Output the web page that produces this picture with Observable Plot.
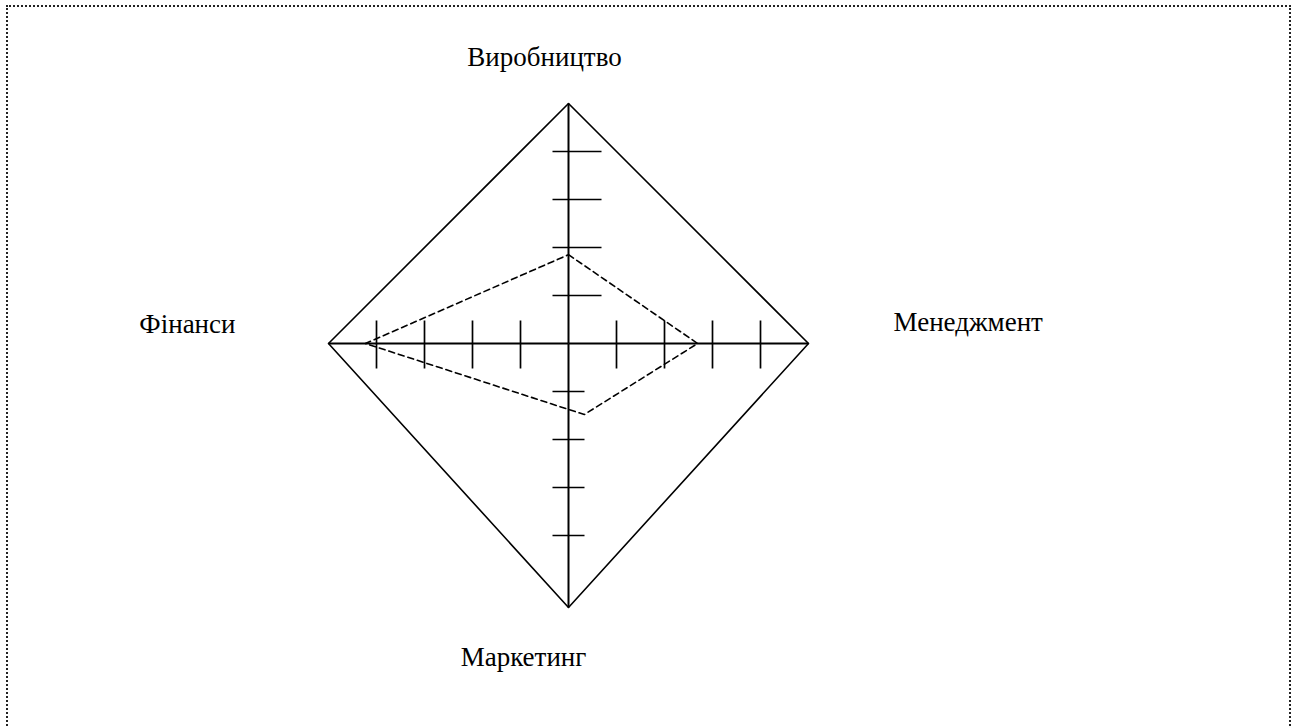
<!DOCTYPE html>
<html><head><meta charset="utf-8">
<script src="https://cdn.jsdelivr.net/npm/d3@7"></script>
<script src="https://cdn.jsdelivr.net/npm/@observablehq/plot@0.6"></script>
<style>
html,body{margin:0;padding:0;background:#fff;overflow:hidden}
#wrap{position:relative;width:1297px;height:726px;overflow:hidden}
#frame{position:absolute;left:6px;top:5px;width:1285px;height:800px;border:2px dotted #222;box-sizing:border-box;pointer-events:none}
</style></head>
<body><div id="wrap"><div id="chart"></div><div id="frame"></div></div>
<script>
// Data
const axes = ["Виробництво", "Менеджмент", "Маркетинг", "Фінанси"];
const axisMax = [5, 5, 5.5, 5];
const tickValues = [1, 2, 3, 4];
const profile = [1.85, 2.69, 1.48, 4.23];
const profileShift = [0, 0, 0.33, 0];

// Geometry / layout (code, not data)
const W = 1297, H = 726, cx = 568, cy = 343, unit = 48;
const dirs = [[0, 1], [1, 0], [0, -1], [-1, 0]];
const tickExtent = [[-16, 33], [-23, 25], [-16, 16], [-23, 25]]; // px across axis
const labelLayout = [
  {dx: -24, dy: -38, anchor: "middle"},
  {dx: 85, dy: -13, anchor: "start"},
  {dx: -45, dy: 58, anchor: "middle"},
  {dx: -93, dy: -11, anchor: "end"}
];

const vertices = axes.map((a, i) => ({x: dirs[i][0] * axisMax[i], y: dirs[i][1] * axisMax[i]}));
const ticks = [];
axes.forEach((a, i) => {
  tickValues.forEach(t => {
    const [dxu, dyu] = dirs[i];
    const [e0, e1] = tickExtent[i].map(p => p / unit);
    if (dxu === 0) {
      ticks.push({x1: e0, x2: e1, y1: dyu * t, y2: dyu * t});
    } else {
      ticks.push({x1: dxu * t, x2: dxu * t, y1: -e1, y2: -e0});
    }
  });
});
// profile points: along each axis, with a small sideways shift
const profilePts = axes.map((a, i) => {
  const [dxu, dyu] = dirs[i];
  return {
    x: dxu * profile[i] + Math.abs(dyu) * profileShift[i],
    y: dyu * profile[i] + Math.abs(dxu) * profileShift[i]
  };
});

const labels = axes.map((a, i) => ({name: a, x: vertices[i].x, y: vertices[i].y, ...labelLayout[i]}));

const font = "'Liberation Serif', 'Times New Roman', serif";
const chart = Plot.plot({
  width: W, height: H, margin: 0,
  x: {domain: [-cx / unit, (W - cx) / unit], range: [0, W], axis: null},
  y: {domain: [-(H - cy) / unit, cy / unit], range: [H, 0], axis: null},
  style: {background: "transparent"},
  marks: [
    Plot.line(vertices, {x: "x", y: "y", curve: "linear-closed", stroke: "black", strokeWidth: 1.6}),
    Plot.link(vertices, {x1: () => 0, y1: () => 0, x2: "x", y2: "y", stroke: "black", strokeWidth: 2}),
    Plot.link(ticks, {x1: "x1", x2: "x2", y1: "y1", y2: "y2", stroke: "black", strokeWidth: 1.7}),
    Plot.line(profilePts, {x: "x", y: "y", curve: "linear-closed", stroke: "black", strokeWidth: 1.6, strokeDasharray: "6,4"}),
    ...labels.map(l => Plot.text([l], {x: "x", y: "y", text: "name", dx: l.dx, dy: l.dy, textAnchor: l.anchor, lineAnchor: "bottom", fontSize: 27, fontFamily: font, fill: "black"}))
  ]
});
document.getElementById("chart").appendChild(chart);
</script>
</body></html>
